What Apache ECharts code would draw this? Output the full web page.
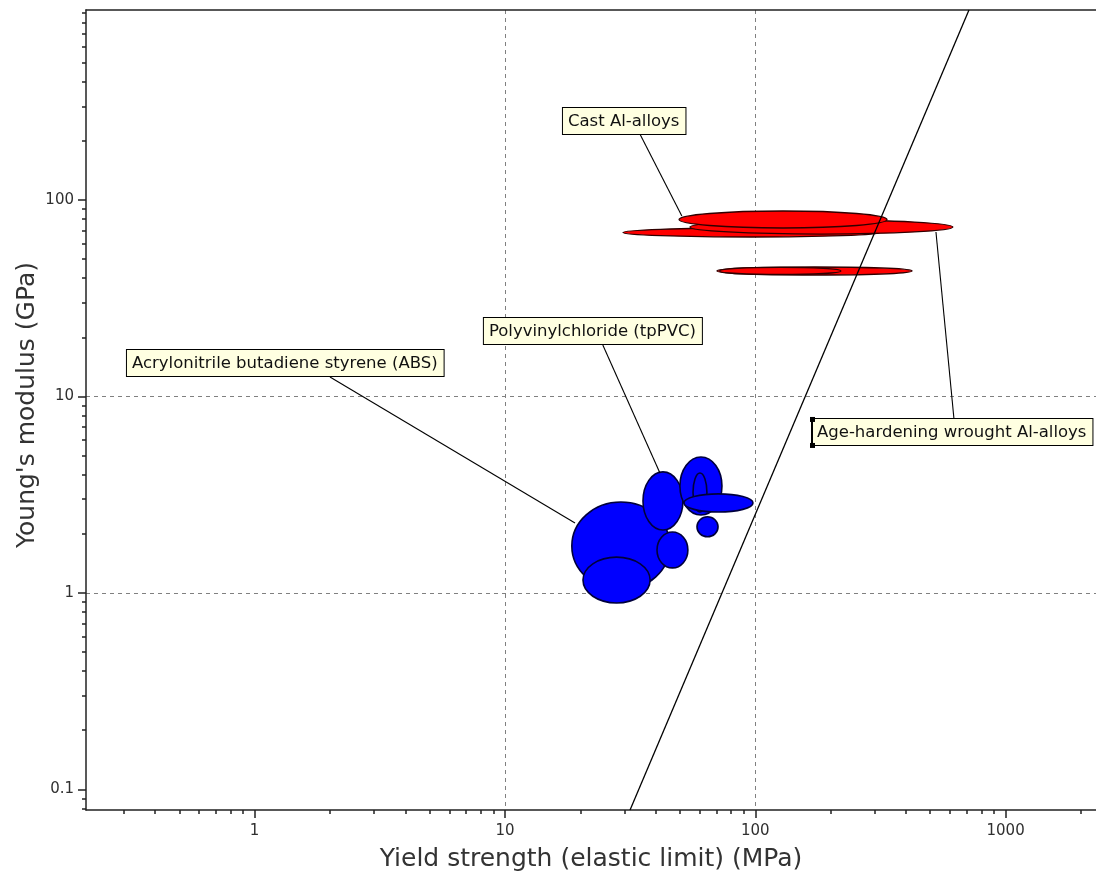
<!DOCTYPE html>
<html>
<head>
<meta charset="utf-8">
<title>Young's modulus vs yield strength</title>
<script src="https://cdn.jsdelivr.net/npm/echarts@6/dist/echarts.min.js"></script>
<style>
  html, body { margin: 0; padding: 0; background: #ffffff; }
  #chart { width: 1096px; height: 873px; }
</style>
</head>
<body>
<div id="chart"></div>
<script>
// Axis extents: yield strength (MPa) and Young's modulus (GPa)
const strengthRange = [0.212, 2297];
const modulusRange = [0.0785, 927];

// Labelled decades on each axis
const strengthTicks = [1, 10, 100, 1000];
const modulusTicks = [0.1, 1, 10, 100];

// Property bubbles: [yield low, yield high (MPa), modulus low, modulus high (GPa)]
const aluminiumBubbles = [
  [29.6, 315, 64.8, 72.0],
  [54.8, 616, 67.1, 79.1],
  [49.6, 336, 72.0, 87.9],
  [70.3, 423, 41.5, 45.6],
  [72.0, 220, 41.8, 45.4]
];
const polymerBubbles = [
  [18.5, 45.6, 1.035, 2.90],
  [20.5, 38.0, 0.889, 1.52],
  [40.5, 53.8, 1.34, 2.04],
  [35.6, 51.4, 2.09, 4.13],
  [50.0, 73.6, 2.49, 4.92],
  [56.4, 64.1, 2.58, 4.08],
  [51.9, 97.9, 2.58, 3.19],
  [58.5, 71.0, 1.93, 2.44]
];

// Selection guideline, slope 3 on log-log axes: [yield (MPa), modulus (GPa)]
const guideline = [[31.6, 0.0785], [714, 927]];

// Callout captions
const calloutTexts = [
  'Cast Al-alloys',
  'Age-hardening wrought Al-alloys',
  'Polyvinylchloride (tpPVC)',
  'Acrylonitrile butadiene styrene (ABS)'
];

// Callout placement in axis units: box corner, leader start, leader end
const calloutLayout = [
  { box: [17.05, 293.9], from: [34.6, 216.7], to: [50.9, 82.9] },
  { box: [168.5, 7.68], from: [622, 7.68], to: [527, 68.7], handles: true },
  { box: [8.24, 25.08], from: [24.6, 18.29], to: [41.6, 4.08] },
  { box: [0.309, 17.25], from: [2.0, 12.57], to: [19.05, 2.27] }
];

// Minor tick positions (2..9 within each decade)
function minorTicks(range) {
  const out = [];
  for (let e = -2; e <= 4; e++) {
    for (let m = 2; m <= 9; m++) {
      const v = m * Math.pow(10, e);
      if (v > range[0] && v < range[1]) out.push(v);
    }
  }
  return out;
}

const FONT = '"DejaVu Sans", "Noto Sans", sans-serif';
const AXIS_COLOR = '#222222';

function plainNumber(v) { return String(v); }

function bubbleSeries(name, bubbles, fill, stroke, width) {
  return {
    type: 'custom',
    name: name,
    coordinateSystem: 'cartesian2d',
    xAxisIndex: 0,
    yAxisIndex: 0,
    data: bubbles,
    encode: { x: [0, 1], y: [2, 3] },
    z: 3,
    silent: true,
    renderItem: function (params, api) {
      const p0 = api.coord([api.value(0), api.value(2)]);
      const p1 = api.coord([api.value(1), api.value(3)]);
      return {
        type: 'ellipse',
        shape: {
          cx: (p0[0] + p1[0]) / 2,
          cy: (p0[1] + p1[1]) / 2,
          rx: Math.abs(p1[0] - p0[0]) / 2,
          ry: Math.abs(p1[1] - p0[1]) / 2
        },
        style: { fill: fill, stroke: stroke, lineWidth: width }
      };
    }
  };
}

const chart = echarts.init(document.getElementById('chart'), null, { renderer: 'canvas' });

const mainAxisCommon = {
  type: 'log',
  logBase: 10,
  axisLine: { show: true, lineStyle: { color: AXIS_COLOR, width: 1.5 } },
  splitLine: {
    show: true,
    showMinLine: false,
    showMaxLine: false,
    lineStyle: { color: '#808080', width: 1, type: [4, 4] }
  },
  nameLocation: 'middle',
  nameMoveOverlap: false
};

const bareAxisCommon = {
  type: 'log',
  logBase: 10,
  axisLine: { show: false },
  axisLabel: { show: false },
  splitLine: { show: false }
};

chart.setOption({
  animation: false,
  backgroundColor: '#ffffff',
  grid: {
    left: 86,
    top: 10,
    right: 0,
    bottom: 63,
    show: false,
    containLabel: false,
    outerBoundsMode: 'none'
  },
  xAxis: [
    Object.assign({}, mainAxisCommon, {
      position: 'bottom',
      min: strengthRange[0],
      max: strengthRange[1],
      axisTick: { show: true, length: 8, customValues: strengthTicks, lineStyle: { color: AXIS_COLOR, width: 1.5 } },
      axisLabel: { customValues: strengthTicks, formatter: plainNumber, color: '#303030', fontSize: 15, fontFamily: FONT, margin: 14 },
      name: 'Yield strength (elastic limit) (MPa)',
      nameGap: 37,
      nameTextStyle: { color: '#333333', fontSize: 25, fontFamily: FONT }
    }),
    // minor ticks along the bottom edge
    Object.assign({}, bareAxisCommon, {
      position: 'bottom',
      min: strengthRange[0],
      max: strengthRange[1],
      axisTick: { show: true, length: 4, customValues: minorTicks(strengthRange), lineStyle: { color: AXIS_COLOR, width: 1.5 } }
    }),
    // top frame line
    Object.assign({}, bareAxisCommon, {
      position: 'top',
      min: strengthRange[0],
      max: strengthRange[1],
      axisLine: { show: true, lineStyle: { color: AXIS_COLOR, width: 1.5 } },
      axisTick: { show: false }
    })
  ],
  yAxis: [
    Object.assign({}, mainAxisCommon, {
      position: 'left',
      min: modulusRange[0],
      max: modulusRange[1],
      axisTick: { show: true, length: 8, customValues: modulusTicks, lineStyle: { color: AXIS_COLOR, width: 1.5 } },
      axisLabel: { customValues: modulusTicks, formatter: plainNumber, color: '#303030', fontSize: 15, fontFamily: FONT, margin: 12 },
      name: "Young's modulus (GPa)",
      nameGap: 46,
      nameTextStyle: { color: '#333333', fontSize: 25, fontFamily: FONT, padding: [0, 0, 0, 10] }
    }),
    // minor ticks along the left edge
    Object.assign({}, bareAxisCommon, {
      position: 'left',
      min: modulusRange[0],
      max: modulusRange[1],
      axisTick: { show: true, length: 4, customValues: minorTicks(modulusRange), lineStyle: { color: AXIS_COLOR, width: 1.5 } }
    })
  ],
  series: [
    bubbleSeries('Aluminium alloys', aluminiumBubbles, '#ff0000', '#300000', 1.3),
    bubbleSeries('Polymers', polymerBubbles, '#0000ff', '#00003c', 1.6),
    {
      type: 'line',
      name: 'Guideline',
      data: guideline,
      xAxisIndex: 0,
      yAxisIndex: 0,
      symbol: 'none',
      clip: true,
      z: 5,
      silent: true,
      lineStyle: { color: '#000000', width: 1.3 }
    },
    {
      type: 'custom',
      name: 'Callouts',
      coordinateSystem: 'cartesian2d',
      xAxisIndex: 0,
      yAxisIndex: 0,
      data: calloutLayout.map(function (c, i) { return [c.box[0], c.box[1], i]; }),
      z: 10,
      silent: true,
      clip: false,
      renderItem: function (params, api) {
        const i = api.value(2);
        const c = calloutLayout[i];
        const box = api.coord(c.box);
        const a = api.coord(c.from);
        const b = api.coord(c.to);
        const children = [
          {
            type: 'line',
            shape: { x1: a[0], y1: a[1], x2: b[0], y2: b[1] },
            style: { stroke: '#000000', lineWidth: 1.1 }
          },
          {
            type: 'text',
            x: box[0],
            y: box[1],
            style: {
              text: calloutTexts[i],
              font: '16.5px ' + FONT,
              fill: '#111111',
              align: 'left',
              verticalAlign: 'top',
              backgroundColor: '#ffffe1',
              borderColor: '#000000',
              borderWidth: 1,
              padding: [5, 6, 4, 5]
            }
          }
        ];
        if (c.handles) {
          children.push({ type: 'line', shape: { x1: box[0], y1: box[1], x2: box[0], y2: box[1] + 27 }, style: { stroke: '#000000', lineWidth: 2 } });
          children.push({ type: 'rect', shape: { x: box[0] - 2, y: box[1] - 2, width: 5, height: 5 }, style: { fill: '#000000' } });
          children.push({ type: 'rect', shape: { x: box[0] - 2, y: box[1] + 24, width: 5, height: 5 }, style: { fill: '#000000' } });
        }
        return { type: 'group', children: children };
      }
    }
  ]
});
</script>
</body>
</html>
